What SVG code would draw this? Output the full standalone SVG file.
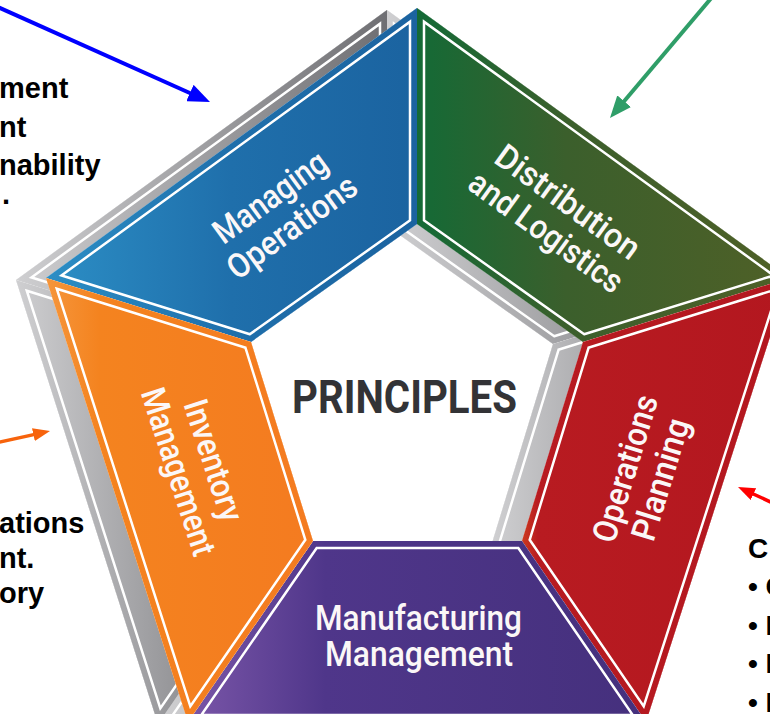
<svg xmlns="http://www.w3.org/2000/svg" xmlns:xlink="http://www.w3.org/1999/xlink" width="770" height="714" viewBox="0 0 770 714">
<style>
.lbl{font-family:Roboto,"Liberation Sans",sans-serif;font-weight:500;font-size:34px;fill:#fbf7f7;text-anchor:middle}
.side{font-family:"Liberation Sans",Arial,sans-serif;font-weight:bold;font-size:29px;fill:#000}
.wl{fill:none;stroke:#fff;stroke-width:16.5;stroke-linejoin:miter;stroke-miterlimit:10}
.cl{fill:none;stroke-width:11.5;stroke-linejoin:miter;stroke-miterlimit:10}
.arr{fill:none}
</style>
<defs>
<polygon id="pB" points="417,8 417,224 251,342 46,278"/>
<polygon id="pG" points="417,8 789,278 583,342 417,224"/>
<polygon id="pR" points="789,278 646,722 522,541 583,342"/>
<polygon id="pP" points="313,541 522,541 646,722 188,722"/>
<polygon id="pO" points="46,278 251,342 313,541 188,722"/>
<clipPath id="cB"><use xlink:href="#pB"/></clipPath>
<clipPath id="cG"><use xlink:href="#pG"/></clipPath>
<clipPath id="cR"><use xlink:href="#pR"/></clipPath>
<clipPath id="cP"><use xlink:href="#pP"/></clipPath>
<clipPath id="cO"><use xlink:href="#pO"/></clipPath>
<linearGradient id="gB" x1="0" y1="0" x2="1" y2="0"><stop offset="0" stop-color="#2c8ec5"/><stop offset="0.5" stop-color="#1f6fab"/><stop offset="1" stop-color="#1b63a0"/></linearGradient>
<linearGradient id="gG" x1="0" y1="0" x2="1" y2="0"><stop offset="0" stop-color="#146a36"/><stop offset="0.4" stop-color="#3b5f2c"/><stop offset="1" stop-color="#4f6027"/></linearGradient>
<linearGradient id="gO" x1="0" y1="0" x2="1" y2="0"><stop offset="0" stop-color="#f5963c"/><stop offset="0.2" stop-color="#f4831f"/><stop offset="1" stop-color="#f47b20"/></linearGradient>
<linearGradient id="gP" x1="0" y1="0" x2="1" y2="0"><stop offset="0" stop-color="#7a56a8"/><stop offset="0.3" stop-color="#4f368a"/><stop offset="1" stop-color="#45307d"/></linearGradient>
<linearGradient id="gR" x1="0" y1="0" x2="1" y2="0"><stop offset="0" stop-color="#cc3a1e"/><stop offset="0.06" stop-color="#b81b21"/><stop offset="1" stop-color="#b3171f"/></linearGradient>
<linearGradient id="gGr" x1="0" y1="0" x2="1" y2="0"><stop offset="0" stop-color="#cfcfd1"/><stop offset="1" stop-color="#6f6f73"/></linearGradient>
<marker id="mBlue" markerUnits="userSpaceOnUse" markerWidth="22" markerHeight="18" refX="6" refY="9" orient="auto"><path d="M0,0 L22,9 L0,18 z" fill="#0000ff"/></marker>
<marker id="mGreen" markerUnits="userSpaceOnUse" markerWidth="22" markerHeight="18" refX="6" refY="9" orient="auto"><path d="M0,0 L22,9 L0,18 z" fill="#2f9e68"/></marker>
<marker id="mOrange" markerUnits="userSpaceOnUse" markerWidth="17" markerHeight="13" refX="5" refY="6.5" orient="auto"><path d="M0,0 L17,6.5 L0,13 z" fill="#f7630c"/></marker>
<marker id="mRed" markerUnits="userSpaceOnUse" markerWidth="17" markerHeight="13" refX="5" refY="6.5" orient="auto"><path d="M0,0 L17,6.5 L0,13 z" fill="#ff0000"/></marker>
</defs>
<rect width="770" height="714" fill="#fff"/>

<g id="backing" transform="translate(-30,2)">
<use xlink:href="#pB" fill="url(#gGr)"/><use xlink:href="#pB" class="wl" clip-path="url(#cB)"/><use xlink:href="#pB" class="cl" stroke="url(#gGr)" clip-path="url(#cB)"/>
<use xlink:href="#pG" fill="url(#gGr)"/><use xlink:href="#pG" class="wl" clip-path="url(#cG)"/><use xlink:href="#pG" class="cl" stroke="url(#gGr)" clip-path="url(#cG)"/>
<use xlink:href="#pR" fill="url(#gGr)"/><use xlink:href="#pR" class="wl" clip-path="url(#cR)"/><use xlink:href="#pR" class="cl" stroke="url(#gGr)" clip-path="url(#cR)"/>
<use xlink:href="#pP" fill="url(#gGr)"/><use xlink:href="#pP" class="wl" clip-path="url(#cP)"/><use xlink:href="#pP" class="cl" stroke="url(#gGr)" clip-path="url(#cP)"/>
<use xlink:href="#pO" fill="url(#gGr)"/><use xlink:href="#pO" class="wl" clip-path="url(#cO)"/><use xlink:href="#pO" class="cl" stroke="url(#gGr)" clip-path="url(#cO)"/>
</g>

<g id="managing-operations">
<use xlink:href="#pB" fill="url(#gB)"/><use xlink:href="#pB" class="wl" clip-path="url(#cB)"/><use xlink:href="#pB" class="cl" stroke="url(#gB)" clip-path="url(#cB)"/>
<g transform="translate(281,212) rotate(-36)"><text class="lbl" x="0" y="-7" textLength="132" lengthAdjust="spacingAndGlyphs">Managing</text><text class="lbl" x="0" y="30" textLength="152" lengthAdjust="spacingAndGlyphs">Operations</text></g>
</g>

<g id="distribution-logistics">
<use xlink:href="#pG" fill="url(#gG)"/><use xlink:href="#pG" class="wl" clip-path="url(#cG)"/><use xlink:href="#pG" class="cl" stroke="url(#gG)" clip-path="url(#cG)"/>
<g transform="translate(557,217) rotate(36)"><text class="lbl" x="0" y="-7" textLength="170" lengthAdjust="spacingAndGlyphs">Distribution</text><text class="lbl" x="0" y="30" textLength="182" lengthAdjust="spacingAndGlyphs">and Logistics</text></g>
</g>

<g id="operations-planning">
<use xlink:href="#pR" fill="url(#gR)"/><use xlink:href="#pR" class="wl" clip-path="url(#cR)"/><use xlink:href="#pR" class="cl" stroke="url(#gR)" clip-path="url(#cR)"/>
<g transform="translate(643,474) rotate(-73)"><text class="lbl" x="0" y="-7" textLength="152" lengthAdjust="spacingAndGlyphs">Operations</text><text class="lbl" x="0" y="30" textLength="126" lengthAdjust="spacingAndGlyphs">Planning</text></g>
</g>

<g id="manufacturing-management">
<use xlink:href="#pP" fill="url(#gP)"/><use xlink:href="#pP" class="wl" clip-path="url(#cP)"/><use xlink:href="#pP" class="cl" stroke="url(#gP)" clip-path="url(#cP)"/>
<text class="lbl" style="font-size:35px" x="418.5" y="630" textLength="207" lengthAdjust="spacingAndGlyphs">Manufacturing</text>
<text class="lbl" style="font-size:35px" x="419" y="666" textLength="188" lengthAdjust="spacingAndGlyphs">Management</text>
</g>

<g id="inventory-management">
<use xlink:href="#pO" fill="url(#gO)"/><use xlink:href="#pO" class="wl" clip-path="url(#cO)"/><use xlink:href="#pO" class="cl" stroke="url(#gO)" clip-path="url(#cO)"/>
<g transform="translate(196,466) rotate(72)"><text class="lbl" x="0" y="-7" textLength="126" lengthAdjust="spacingAndGlyphs">Inventory</text><text class="lbl" x="0" y="30" textLength="174" lengthAdjust="spacingAndGlyphs">Management</text></g>
</g>

<g id="principles">
<text x="404.5" y="413" font-family="Roboto, 'Liberation Sans', sans-serif" font-weight="bold" font-size="46" fill="#333336" text-anchor="middle" textLength="225" lengthAdjust="spacingAndGlyphs">PRINCIPLES</text>
</g>

<g id="side-text-left-top">
<text class="side" x="-1" y="98">ment</text>
<text class="side" x="-1" y="137">nt</text>
<text class="side" x="-1" y="175">nability</text>
<text class="side" x="2" y="204">.</text>
</g>
<g id="side-text-left-bottom">
<text class="side" x="-1" y="533">ations</text>
<text class="side" x="-1" y="568">nt.</text>
<text class="side" x="-1" y="603">ory</text>
</g>
<g id="side-text-right">
<text class="side" style="font-size:28px" x="748" y="558">C</text>
<text class="side" style="font-size:28px" x="748" y="596">• O</text>
<text class="side" style="font-size:28px" x="748" y="635">• I</text>
<text class="side" style="font-size:28px" x="748" y="673">• I</text>
<text class="side" style="font-size:28px" x="748" y="712">• I</text>
</g>

<g id="connectors">
<line class="arr" x1="-10" y1="3.5" x2="195.4" y2="95.5" stroke="#0000ff" stroke-width="4" marker-end="url(#mBlue)"/>
<line class="arr" x1="713" y1="-4" x2="620.3" y2="105.8" stroke="#2f9e68" stroke-width="4" marker-end="url(#mGreen)"/>
<line class="arr" x1="-5" y1="443.1" x2="38.3" y2="433.6" stroke="#f7630c" stroke-width="3.5" marker-end="url(#mOrange)"/>
<line class="arr" x1="780" y1="506.3" x2="748.9" y2="492" stroke="#ff0000" stroke-width="3.5" marker-end="url(#mRed)"/>
</g>
</svg>
